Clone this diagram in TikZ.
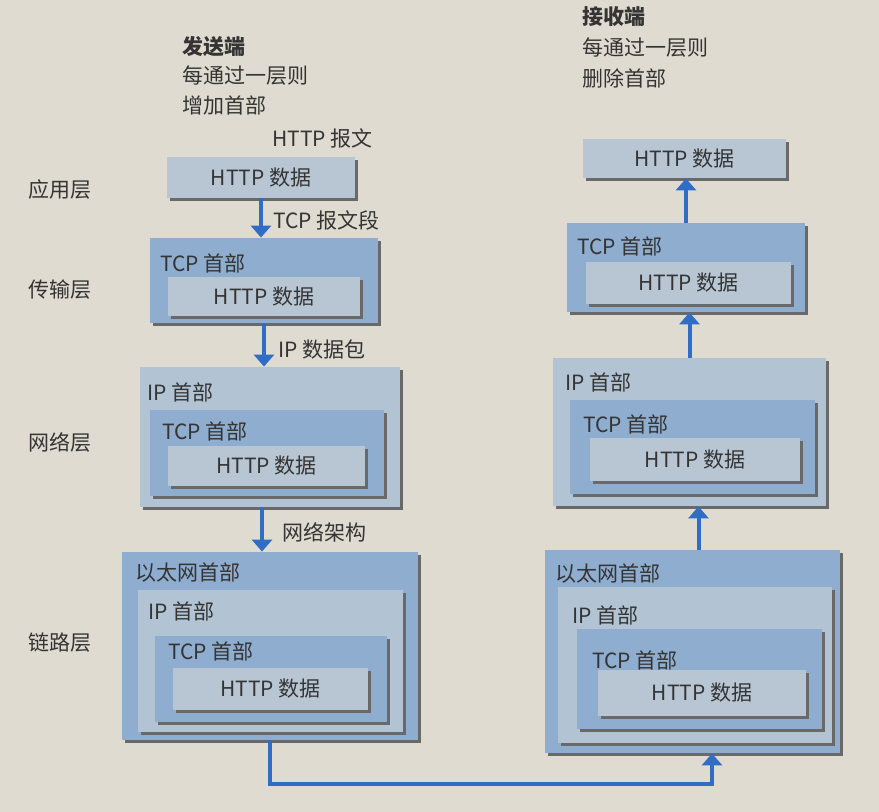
\documentclass[tikz,border=0pt]{standalone}
\usepackage{fontspec}
\setmainfont{Noto Sans CJK SC}
\usepackage{tikz}
\usetikzlibrary{arrows.meta,fit,shadows}

\definecolor{pagebg}{RGB}{224,219,208}
\definecolor{hdrblue}{RGB}{142,173,207}
\definecolor{ipgray}{RGB}{178,196,211}
\definecolor{datagray}{RGB}{184,198,212}
\definecolor{flowblue}{RGB}{48,110,198}
\definecolor{inkgray}{RGB}{52,52,52}
\definecolor{shadegray}{RGB}{105,105,105}

\tikzset{
  pkt/.style={draw=none, inner sep=0pt,
    drop shadow={shadow xshift=1.3pt, shadow yshift=-1.3pt, fill=shadegray, opacity=1}},
  hdrbox/.style={pkt, fill=hdrblue},
  ipbox/.style={pkt, fill=ipgray},
  databox/.style={pkt, fill=datagray},
  lbl/.style={anchor=west, inner sep=0pt, text=inkgray},
  dtxt/.style={inner sep=0pt, text=inkgray},
  flow/.style={draw=flowblue, line width=2pt, -{Triangle[width=10pt,length=6pt]}},
}

\begin{document}
\begin{tikzpicture}[x=0.5pt, y=-0.5pt, font=\fontsize{10.5}{12}\selectfont]
      \fill[pagebg] (0, 0) rectangle (879, 812);
      \useasboundingbox (0, 0) rectangle (879, 812);

      % sender side
      \node[lbl] (sendT) at (182, 47) {\bfseries 发送端};
      \node[lbl] (sendA) at (182, 76) {每通过一层则};
      \node[lbl] (sendB) at (182, 105) {增加首部};
      \node[lbl] (layApp) at (28, 190) {应用层};
      \node[lbl] (layTcp) at (28, 290) {传输层};
      \node[lbl] (layIp) at (28, 442) {网络层};
      \node[lbl] (layEth) at (28, 643) {链路层};

      \node[lbl] (msgApp) at (272, 138) {HTTP 报文};
      \node[databox, fit={(167, 157) (355, 198)}] (lApp) {};
      \node[dtxt] (lAppTx) at (lApp.center) {HTTP 数据};

      \node[hdrbox, fit={(150, 238) (378, 323)}] (lTcp) {};
      \node[lbl] (lTcpH) at (160, 263) {TCP 首部};
      \node[databox, fit={(168, 277) (360, 316)}] (lTcpD) {};
      \node[dtxt] (lTcpTx) at (lTcpD.center) {HTTP 数据};

      \node[ipbox, fit={(140, 367) (400, 507)}] (lIp) {};
      \node[lbl] (lIpH) at (147, 392) {IP 首部};
      \node[hdrbox, fit={(150, 410) (384, 496)}] (lIpT) {};
      \node[lbl] (lIpTH) at (162, 431) {TCP 首部};
      \node[databox, fit={(168, 446) (365, 486)}] (lIpD) {};
      \node[dtxt] (lIpTx) at (lIpD.center) {HTTP 数据};

      \node[hdrbox, fit={(122, 552) (418, 740)}] (lEth) {};
      \node[lbl] (lEthH) at (135, 573) {以太网首部};
      \node[ipbox, fit={(138, 590) (403, 732)}] (lEthI) {};
      \node[lbl] (lEthIH) at (148, 611) {IP 首部};
      \node[hdrbox, fit={(155, 636) (387, 722)}] (lEthT) {};
      \node[lbl] (lEthTH) at (168, 651) {TCP 首部};
      \node[databox, fit={(173, 668) (368, 710)}] (lEthD) {};
      \node[dtxt] (lEthTx) at (lEthD.center) {HTTP 数据};

      \draw[flow] (lApp.south) -- (lApp.south |- lTcp.north);
      \node[lbl] (msgTcp) at (273, 220) {TCP 报文段};
      \draw[flow] (lTcp.south) -- (lTcp.south |- lIp.north);
      \node[lbl] (msgIp) at (278, 350) {IP 数据包};
      \draw[flow] ([xshift=-4pt]lIp.south) -- ([xshift=-4pt]lIp.south |- lEth.north);
      \node[lbl] (msgEth) at (282, 532) {网络架构};

      % receiver side
      \node[lbl] (recvT) at (582, 17) {\bfseries 接收端};
      \node[lbl] (recvA) at (582, 48) {每通过一层则};
      \node[lbl] (recvB) at (582, 78) {删除首部};

      \node[databox, fit={(583, 139) (786, 178)}] (rApp) {};
      \node[dtxt] (rAppTx) at (rApp.center) {HTTP 数据};

      \node[hdrbox, fit={(567, 223) (805, 312)}] (rTcp) {};
      \node[lbl] (rTcpH) at (577, 246) {TCP 首部};
      \node[databox, fit={(586, 262) (791, 304)}] (rTcpD) {};
      \node[dtxt] (rTcpTx) at (rTcpD.center) {HTTP 数据};

      \node[ipbox, fit={(553, 358) (826, 506)}] (rIp) {};
      \node[lbl] (rIpH) at (565, 382) {IP 首部};
      \node[hdrbox, fit={(570, 400) (815, 494)}] (rIpT) {};
      \node[lbl] (rIpTH) at (583, 424) {TCP 首部};
      \node[databox, fit={(590, 438) (800, 481)}] (rIpD) {};
      \node[dtxt] (rIpTx) at (rIpD.center) {HTTP 数据};

      \node[hdrbox, fit={(545, 550) (840, 753)}] (rEth) {};
      \node[lbl] (rEthH) at (555, 574) {以太网首部};
      \node[ipbox, fit={(558, 587) (832, 743)}] (rEthI) {};
      \node[lbl] (rEthIH) at (572, 615) {IP 首部};
      \node[hdrbox, fit={(577, 629) (822, 729)}] (rEthT) {};
      \node[lbl] (rEthTH) at (592, 660) {TCP 首部};
      \node[databox, fit={(598, 670) (806, 716)}] (rEthD) {};
      \node[dtxt] (rEthTx) at (rEthD.center) {HTTP 数据};

      \draw[flow] (rTcp.north) -- (rTcp.north |- rApp.south);
      \draw[flow] (rIp.north) -- (rIp.north |- rTcp.south);
      \draw[flow] ([xshift=3pt]rEth.north) -- ([xshift=3pt]rEth.north |- rIp.south);

      % wire between the two hosts
      \coordinate (wireR) at (712, 784);
      \draw[flow] (lEth.south) |- (wireR) -- (wireR |- rEth.south);
    \end{tikzpicture}
\end{document}
